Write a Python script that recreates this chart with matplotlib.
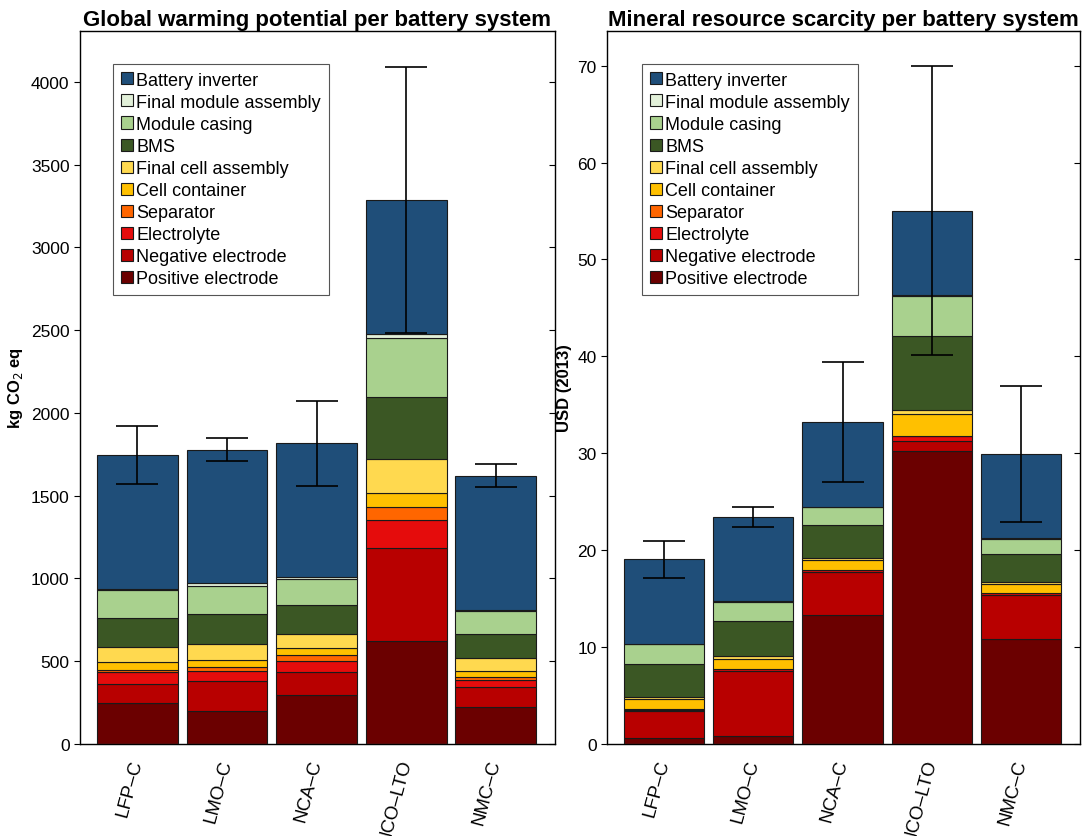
import numpy as np
import matplotlib
matplotlib.use("Agg")
import matplotlib.pyplot as plt

plt.rcParams['font.family'] = ['Liberation Sans', 'DejaVu Sans']

chemistries = ["LFP–C", "LMO–C", "NCA–C", "NCO–LTO", "NMC–C"]

# stacking order, bottom to top
components = ["Positive electrode", "Negative electrode", "Electrolyte", "Separator",
              "Cell container", "Final cell assembly", "BMS", "Module casing",
              "Final module assembly", "Battery inverter"]
colors = ["#6b0000", "#b80000", "#e50c0c", "#ff6600", "#ffc000", "#ffd94f",
          "#3b5724", "#a9d18e", "#e2f0d9", "#1f4e79"]

# global warming potential, kg CO2 eq (rows = components, cols = chemistries)
gwp = np.array([
    [246, 199, 294, 624, 226],
    [115, 182, 143, 560, 116],
    [72, 58, 63, 168, 47],
    [14, 28, 36, 82, 16],
    [50, 42, 42, 84, 38],
    [89, 95, 89, 202, 75],
    [175, 183, 171, 378, 147],
    [168, 169, 157, 357, 139],
    [9, 15, 12, 22, 6],
    [810, 807, 810, 810, 811],
])
gwp_low = [1573, 1710, 1559, 2483, 1551]
gwp_high = [1923, 1847, 2072, 4088, 1690]

# mineral resource scarcity, USD (2013)
mrs = np.array([
    [0.62, 0.83, 13.27, 30.28, 10.83],
    [2.78, 6.74, 4.50, 0.96, 4.57],
    [0.15, 0.17, 0.13, 0.51, 0.14],
    [0.05, 0.02, 0.02, 0.05, 0.02],
    [1.00, 1.04, 1.05, 2.30, 0.90],
    [0.20, 0.27, 0.17, 0.35, 0.21],
    [3.50, 3.58, 3.44, 7.65, 2.93],
    [2.00, 2.03, 1.86, 4.10, 1.57],
    [0.05, 0.04, 0.06, 0.15, 0.05],
    [8.70, 8.72, 8.70, 8.70, 8.72],
])
mrs_low = [17.1, 22.37, 27.0, 40.1, 22.9]
mrs_high = [20.97, 24.47, 39.4, 70.0, 36.95]


def stacked_panel(ax, data, low, high, title, ylabel, ylim, yticks, leg_anchor):
    x = np.arange(1, len(chemistries) + 1)
    bottom = np.zeros(len(chemistries))
    handles = []
    for vals, name, c in zip(data, components, colors):
        h = ax.bar(x, vals, width=0.9, bottom=bottom, color=c, edgecolor="#1a1a1a",
                   linewidth=0.8, label=name, zorder=2)
        handles.append(h)
        bottom = bottom + vals
    total = bottom
    yerr = [total - np.array(low), np.array(high) - total]
    ax.errorbar(x, total, yerr=yerr, fmt="none", ecolor="black", elinewidth=1.2,
                capsize=15, capthick=1.2, zorder=3)

    ax.set_xlim(0.36, 5.66)
    ax.set_ylim(*ylim)
    ax.set_yticks(yticks)
    ax.set_xticks(x)
    ax.set_xticklabels(chemistries, rotation=75, ha="right", va="center",
                       rotation_mode="anchor", fontsize=13.5)
    ax.tick_params(axis="x", length=0, pad=11)
    ax.tick_params(axis="y", direction="out", length=4, labelsize=12.5, right=False)
    for s in ax.spines.values():
        s.set_linewidth(1.0)
        s.set_color("#333333")

    # inward ticks on the right-hand frame
    tw = ax.twinx()
    tw.set_ylim(*ylim)
    tw.set_yticks(yticks)
    tw.tick_params(axis="y", direction="in", length=4, labelright=False)

    ax.set_title(title, fontsize=16, fontweight="bold", pad=4)
    ax.set_ylabel(ylabel, fontsize=12, fontweight="bold", labelpad=4)

    leg = ax.legend(handles[::-1], components[::-1], loc="upper left",
                    bbox_to_anchor=leg_anchor, borderaxespad=0, fontsize=13,
                    handlelength=0.65, handleheight=0.65, handletextpad=0.2,
                    labelspacing=0.28, fancybox=False, framealpha=1,
                    edgecolor="#555555", borderpad=0.45)
    leg.get_frame().set_linewidth(0.8)
    leg.set_zorder(5)


fig = plt.figure(figsize=(10.85, 8.37), dpi=100)
ax1 = fig.add_axes([0.0737, 0.110, 0.4378, 0.852])
ax2 = fig.add_axes([0.5594, 0.110, 0.4360, 0.852])

stacked_panel(ax1, gwp, gwp_low, gwp_high,
              "Global warming potential per battery system", "kg CO$_2$ eq",
              (0, 4308), np.arange(0, 4001, 500), (0.069, 0.954))
stacked_panel(ax2, mrs, mrs_low, mrs_high,
              "Mineral resource scarcity per battery system", "USD (2013)",
              (0, 73.6), np.arange(0, 71, 10), (0.074, 0.954))

fig.savefig("out.png", dpi=100)
